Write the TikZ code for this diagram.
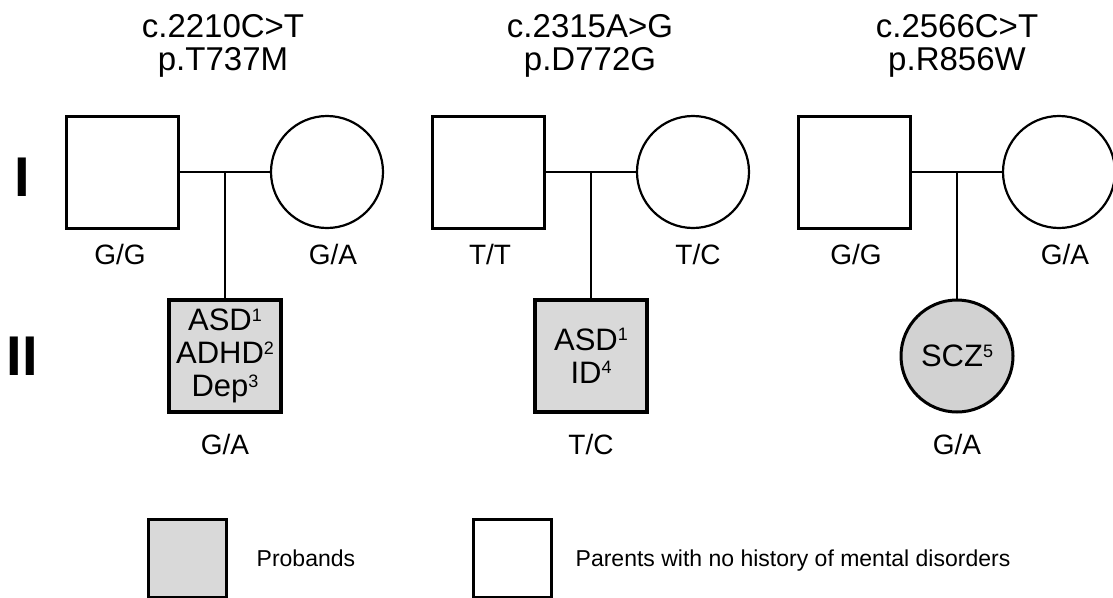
\documentclass[tikz,border=0pt]{standalone}
\usepackage{fontspec}
\setmainfont{Liberation Sans}
\usetikzlibrary{positioning}
\newcommand{\dx}[1]{\raisebox{9.5pt}{\fontsize{18}{18}\selectfont #1}}
\tikzset{
  male/.style={draw=black, line width=3pt, fill=white, minimum size=112pt, inner sep=0pt},
  female/.style={draw=black, circle, line width=2.2pt, fill=white, minimum size=112pt, inner sep=0pt},
  proband/.style={fill=gray!30, line width=3.5pt, align=center, font=\fontsize{31}{33}\selectfont},
  link/.style={draw=black, line width=2pt},
  geno/.style={anchor=base, inner sep=0pt, font=\fontsize{28}{32}\selectfont},
  variant/.style={anchor=base, inner sep=0pt, font=\fontsize{33}{38}\selectfont},
  gen/.style={inner sep=0pt, font=\fontsize{56}{60}\selectfont\bfseries},
  note/.style={anchor=west, inner sep=0pt, text height=16pt, text depth=0pt, font=\fontsize{23}{28}\selectfont}
}

\begin{document}
\begin{tikzpicture}[x=1pt,y=-1pt]
  \useasboundingbox (0,0) rectangle (1113,597);

  % generations
  \node[gen] (gI) at (22,177) {I};
  \node[gen] (gII) at (22,356) {II};

  % family 1
  \node[variant] (v1c) at (223,37) {c.2210C>T};
  \node[variant] (v1p) at (223,70) {p.T737M};
  \node[male] (f1) at (122,172) {};
  \node[female] (mo1) at (327,172) {};
  \node[male, proband] (c1) at (225,356) {ASD\dx{1}\\ADHD\dx{2}\\Dep\dx{3}};
  \coordinate (m1) at (225,172);
  \draw[link] (f1.east) -- (mo1.west);
  \draw[link] (m1) -- (c1.north);
  \node[geno] (f1g) at (120,264) {G/G};
  \node[geno] (mo1g) at (333,264) {G/A};
  \node[geno] (c1g) at (225,454) {G/A};

  % family 2
  \node[variant] (v2c) at (590,37) {c.2315A>G};
  \node[variant] (v2p) at (590,70) {p.D772G};
  \node[male] (f2) at (488,172) {};
  \node[female] (mo2) at (693,172) {};
  \node[male, proband] (c2) at (591,356) {ASD\dx{1}\\ID\dx{4}};
  \coordinate (m2) at (591,172);
  \draw[link] (f2.east) -- (mo2.west);
  \draw[link] (m2) -- (c2.north);
  \node[geno] (f2g) at (490,264) {T/T};
  \node[geno] (mo2g) at (698,264) {T/C};
  \node[geno] (c2g) at (591,454) {T/C};

  % family 3
  \node[variant] (v3c) at (957,37) {c.2566C>T};
  \node[variant] (v3p) at (957,70) {p.R856W};
  \node[male] (f3) at (854,172) {};
  \node[female] (mo3) at (1059,172) {};
  \node[female, proband, fill=gray!35, line width=3pt] (c3) at (957,356) {SCZ\dx{5}};
  \coordinate (m3) at (957,172);
  \draw[link] (f3.east) -- (mo3.west);
  \draw[link] (m3) -- (c3.north);
  \node[geno] (f3g) at (856,264) {G/G};
  \node[geno] (mo3g) at (1065,264) {G/A};
  \node[geno] (c3g) at (957,454) {G/A};

  % legend
  \node[male, fill=gray!30, minimum size=78pt] (keyaff) at (187,558) {};
  \node[note, right=29pt of keyaff] (keyafft) {Probands};
  \node[male, minimum size=78pt] (keypar) at (512,558) {};
  \node[note, right=23pt of keypar] (keypart) {Parents with no history of mental disorders};
\end{tikzpicture}
\end{document}
